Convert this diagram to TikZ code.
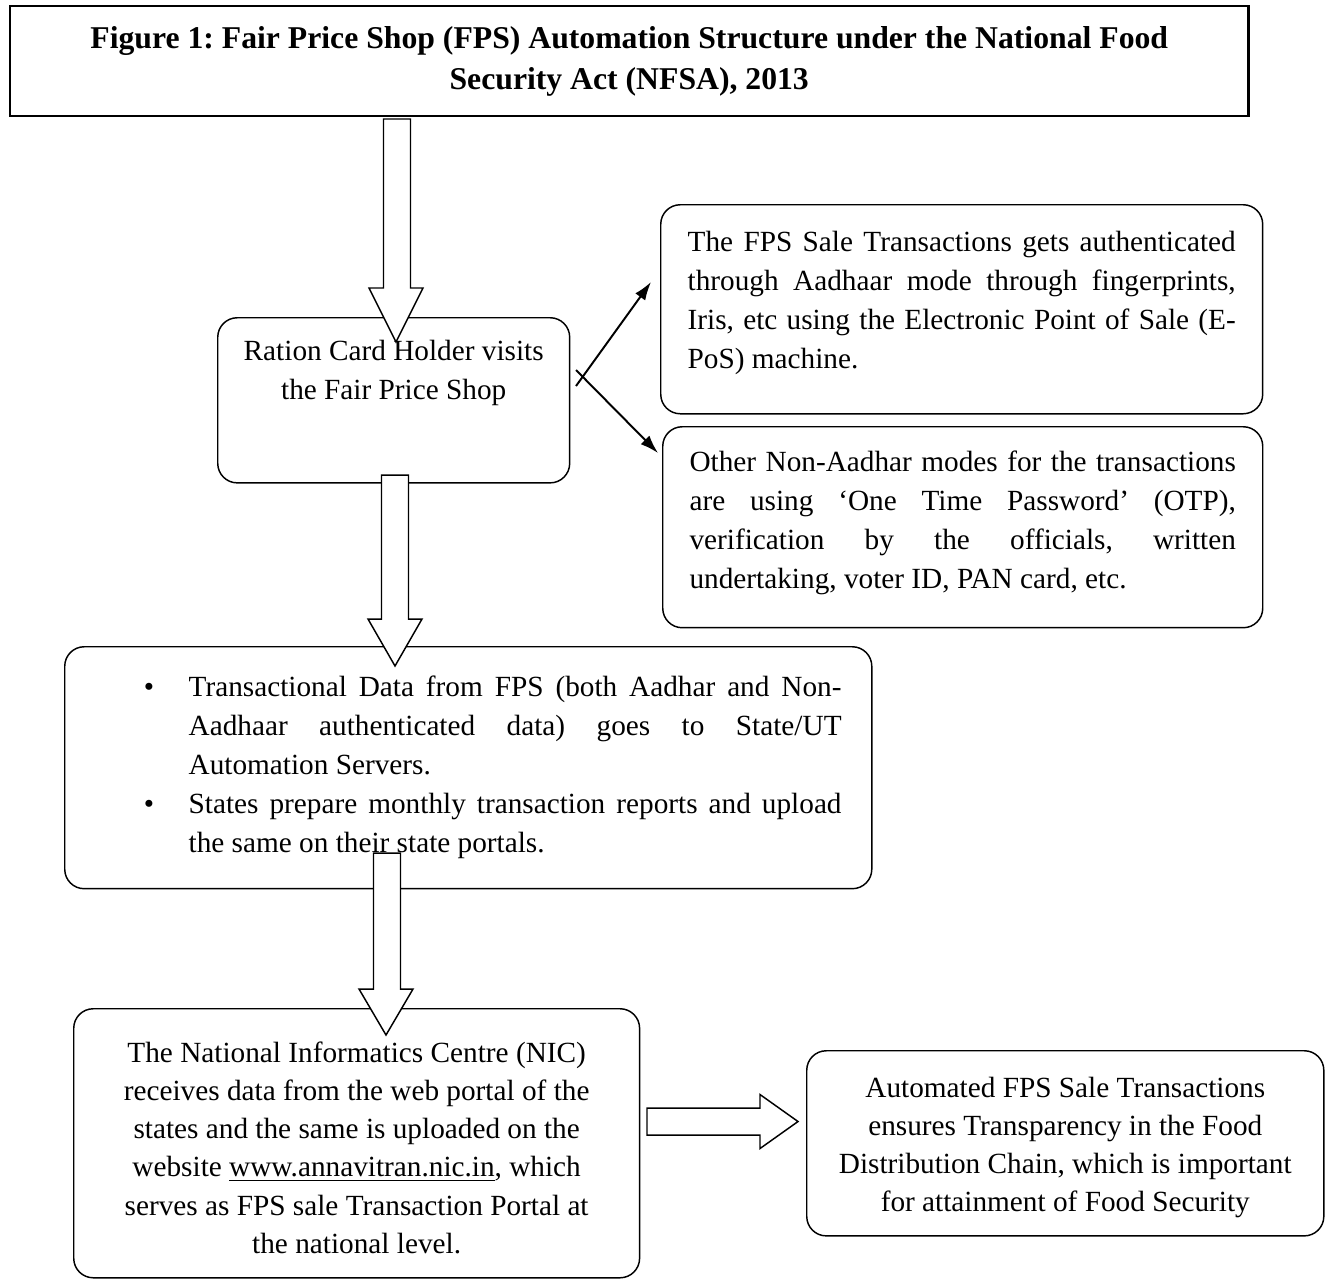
\documentclass[tikz,border=0pt]{standalone}
\usepackage{fontspec}
\setmainfont{Liberation Serif}
\usetikzlibrary{calc,arrows.meta}
\frenchspacing

\newdimen\pxu
\pxu=0.41pt

\tikzset{
  box/.style={draw, rounded corners=8pt, line width=0.6pt, anchor=north west,
    inner sep=0pt, align=center, font=\fontsize{12}{16}\selectfont,
    execute at begin node={\spaceskip=\fontdimen2\font\relax}},
  blockarrow/.style={draw, fill=white, line width=0.6pt, line join=miter},
}

% one justified line of a box
\newcommand{\jline}[1]{\makebox[\linewidth][s]{\spaceskip=0pt #1}}
\newcommand{\bulletmark}{\hspace*{20.1pt}\makebox[18.4pt][l]{\textbullet}}
\newcommand{\bulletgap}{\hspace*{38.5pt}}

% hollow block arrows: start, tip, head length (px)
\newcommand{\hollowdown}[3]{%
  \draw[blockarrow] let \p1=(#1), \p2=(#2) in
    (\x1-13.5*\pxu,\y1) -- (\x1-13.5*\pxu,\y2+#3*\pxu) -- (\x2-27*\pxu,\y2+#3*\pxu)
    -- (\p2) -- (\x2+27*\pxu,\y2+#3*\pxu) -- (\x1+13.5*\pxu,\y2+#3*\pxu)
    -- (\x1+13.5*\pxu,\y1) -- cycle;}
\newcommand{\hollowright}[3]{%
  \draw[blockarrow] let \p1=(#1), \p2=(#2) in
    (\x1,\y1+13.5*\pxu) -- (\x2-#3*\pxu,\y1+13.5*\pxu) -- (\x2-#3*\pxu,\y1+27*\pxu)
    -- (\p2) -- (\x2-#3*\pxu,\y1-27*\pxu) -- (\x2-#3*\pxu,\y1-13.5*\pxu)
    -- (\x1,\y1-13.5*\pxu) -- cycle;}

\begin{document}
\begin{tikzpicture}[x=0.41pt, y=-0.41pt]
  \useasboundingbox (0,0) rectangle (1332,1279);

  \node[box, sharp corners, line width=1pt, minimum width=507.6pt, minimum height=45.1pt,
    text width=495pt, font=\fontsize{13}{16.8}\selectfont\bfseries] (title) at (9,5)
    {Figure 1: Fair Price Shop (FPS) Automation Structure under the National Food\\
     Security Act (NFSA), 2013};

  \node[box, minimum width=144.3pt, minimum height=67.7pt, text width=132pt] (holder)
    at (217,317) {Ration Card Holder visits\\the Fair Price Shop\\[9pt]\mbox{}};

  \node[box, align=left, minimum width=246.8pt, minimum height=85.7pt, text width=224.7pt]
    (aadhaar) at (660,204)
    {\jline{The FPS Sale Transactions gets authenticated}\\
     \jline{through Aadhaar mode through fingerprints,}\\
     \jline{Iris, etc using the Electronic Point of Sale (E-}\\
     PoS) machine.\\[-8pt]\mbox{}};

  \node[box, align=left, minimum width=246pt, minimum height=82.4pt, text width=224pt]
    (nonaadhaar) at (662,426)
    {\jline{Other Non-Aadhar modes for the transactions}\\
     \jline{are using ‘One Time Password’ (OTP),}\\
     \jline{verification by the officials, written}\\
     undertaking, voter ID, PAN card, etc.\\[-10pt]\mbox{}};

  \node[box, align=left, minimum width=330.9pt, minimum height=99.2pt, text width=306.3pt]
    (servers) at (64,646)
    {\bulletmark\makebox[267.7pt][s]{\spaceskip=0pt Transactional Data from FPS (both Aadhar and Non-}\\
     \bulletgap\makebox[267.7pt][s]{\spaceskip=0pt Aadhaar authenticated data) goes to State/UT}\\
     \bulletgap Automation Servers.\\
     \bulletmark\makebox[267.7pt][s]{\spaceskip=0pt States prepare monthly transaction reports and upload}\\
     \bulletgap the same on their state portals.};

  \node[box, minimum width=232pt, minimum height=110.3pt, text width=205pt,
    font=\fontsize{12}{15.6}\selectfont] (nic) at (73,1008)
    {\rule{0pt}{12.2pt}The National Informatics Centre (NIC)\\
     receives data from the web portal of the\\
     states and the same is uploaded on the\\
     website \underline{www.annavitran.nic.in}, which\\
     serves as FPS sale Transaction Portal at\\
     the national level.};

  \node[box, minimum width=212pt, minimum height=75.9pt, text width=200pt,
    font=\fontsize{12}{15.6}\selectfont] (transparency) at (806,1050)
    {\rule{0pt}{11.5pt}Automated FPS Sale Transactions\\
     ensures Transparency in the Food\\
     Distribution Chain, which is important\\
     for attainment of Food Security};

  % block arrows
  \coordinate (a1) at (397,119);  \coordinate (a1tip) at (396,342);
  \coordinate (a2) at (395,475);  \coordinate (a2tip) at (395,666);
  \coordinate (a3) at (387,853);  \coordinate (a3tip) at (386,1035);
  \coordinate (a4) at (647,1121.5); \coordinate (a4tip) at (798,1121.5);
  \hollowdown{a1}{a1tip}{54}
  \hollowdown{a2}{a2tip}{47}
  \hollowdown{a3}{a3tip}{46}
  \hollowright{a4}{a4tip}{38}

  % fork to the two modes
  \coordinate (forkup) at (576,386);
  \coordinate (forkdown) at (576,370);
  \coordinate (tipup) at (651,282);
  \coordinate (tipdown) at (658,453);
  \draw[->,>={Latex[length=7.5pt,width=5pt]}, line width=0.8pt] (forkup) -- (tipup);
  \draw[->,>={Latex[length=7.5pt,width=5pt]}, line width=0.8pt] (forkdown) -- (tipdown);
\end{tikzpicture}
\end{document}
